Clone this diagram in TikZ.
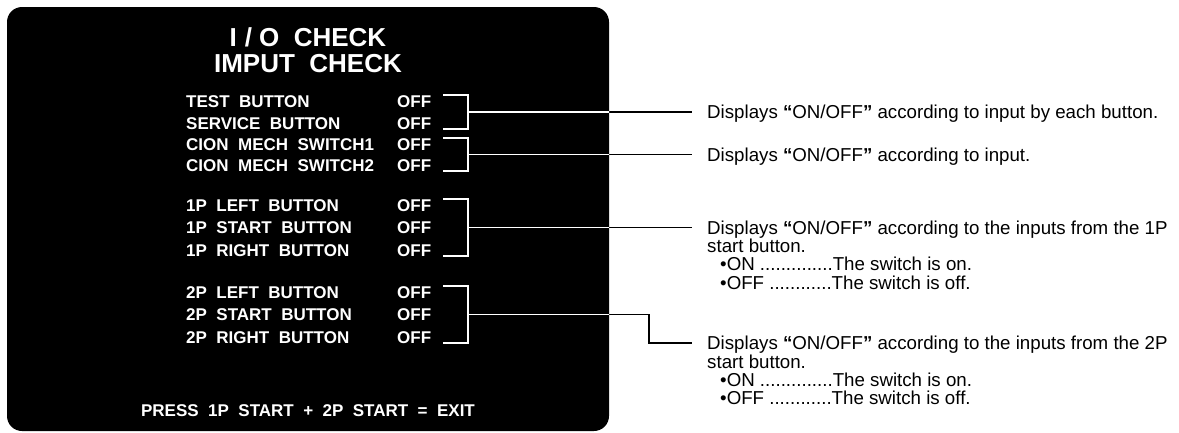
\documentclass[tikz,border=0pt]{standalone}
\usepackage{fontspec}
\setmainfont{Liberation Sans}
\newfontfamily\scrfont{Liberation Sans}[WordSpace=2.0]
\usetikzlibrary{calc}

% connectors from the brackets to the notes
\newcommand{\connlines}[1]{%
  \draw[conn, #1] (b1) -- (b1 -| d1.west);
  \draw[conn, #1] (b2) -- (b2 -| d2.west);
  \draw[conn, #1] (b3) -- (b3 -| d3.west);
  \draw[conn, #1] (b4) -- (b4 -| k4) |- (e4);
}

\begin{document}
\begin{tikzpicture}[x=1pt, y=-1pt,
    screen/.style={fill=black, rounded corners=15pt, minimum width=602pt, minimum height=424pt, inner sep=0pt},
    ttl/.style={text=white, font=\scrfont\bfseries\fontsize{26}{27}\selectfont, anchor=base, inner sep=0pt},
    item/.style={text=white, font=\scrfont\bfseries\fontsize{17}{20}\selectfont, anchor=base west, inner sep=0pt},
    desc/.style={font=\fontsize{18.7}{18.3}\selectfont, align=left, anchor=north west, inner sep=0pt},
    brace/.style={draw=white, line width=1.7pt},
    conn/.style={line width=1.6pt, shorten >=15pt},
  ]
  \useasboundingbox (0,0) rectangle (1179,432);
  \node[screen] (scr) at (308,219) {};

  \node[ttl] (ttl1) at (308,46) {I\hspace{8pt}/\hspace{7pt}O CHECK};
  \node[ttl] (ttl2) at (308,72) {IMPUT CHECK};

  \node[item] (test)  at (186,107) {TEST BUTTON};
  \node[item] (serv)  at (186,129) {SERVICE BUTTON};
  \node[item] (coin1) at (186,150) {CION MECH SWITCH1};
  \node[item] (coin2) at (186,171) {CION MECH SWITCH2};
  \node[item] (l1)    at (186,211) {1P LEFT BUTTON};
  \node[item] (s1)    at (186,233.5) {1P START BUTTON};
  \node[item] (r1)    at (186,256) {1P RIGHT BUTTON};
  \node[item] (l2)    at (186,298) {2P LEFT BUTTON};
  \node[item] (s2)    at (186,320.5) {2P START BUTTON};
  \node[item] (r2)    at (186,343) {2P RIGHT BUTTON};
  \foreach \n/\y in {test/107, serv/129, coin1/150, coin2/171, l1/211, s1/233.5, r1/256, l2/298, s2/320.5, r2/343}
    \node[item] (\n off) at (397,\y) {OFF};

  \node[item, anchor=base] (exit) at (308,416) {PRESS 1P START + 2P START = EXIT};

  % brackets
  \draw[brace] (443,95)  -- (468,95)  -- (468,129) -- (443,129);
  \draw[brace] (443,138) -- (468,138) -- (468,171) -- (443,171);
  \draw[brace] (443,199) -- (468,199) -- (468,256) -- (443,256);
  \draw[brace] (443,286) -- (468,286) -- (468,343) -- (443,343);
  \coordinate (b1) at (468,112);
  \coordinate (b2) at (468,154.5);
  \coordinate (b3) at (468,227.5);
  \coordinate (b4) at (468,314.5);
  \coordinate (k4) at (649,0);

  \node[desc] (d1) at (707,105) {Displays {\bfseries “}ON/OFF{\bfseries ”} according to input by each button.};
  \node[desc] (d2) at (707,147.5) {Displays {\bfseries “}ON/OFF{\bfseries ”} according to input.};
  \node[desc] (d3) at (707,220.5) {Displays {\bfseries “}ON/OFF{\bfseries ”} according to the inputs from the 1P\\start button.\\\hspace*{13pt}•ON ..............The switch is on.\\\hspace*{13pt}•OFF ............The switch is off.};
  \node[desc] (d4) at (707,336) {Displays {\bfseries “}ON/OFF{\bfseries ”} according to the inputs from the 2P\\start button.\\\hspace*{13pt}•ON ..............The switch is on.\\\hspace*{13pt}•OFF ............The switch is off.};
  \coordinate (e4) at ($(d4.north west)+(0,7)$);

  \connlines{black}
  \begin{scope}
    \clip[rounded corners=15pt] (scr.north west) rectangle (scr.south east);
    \connlines{white}
  \end{scope}
\end{tikzpicture}
\end{document}
